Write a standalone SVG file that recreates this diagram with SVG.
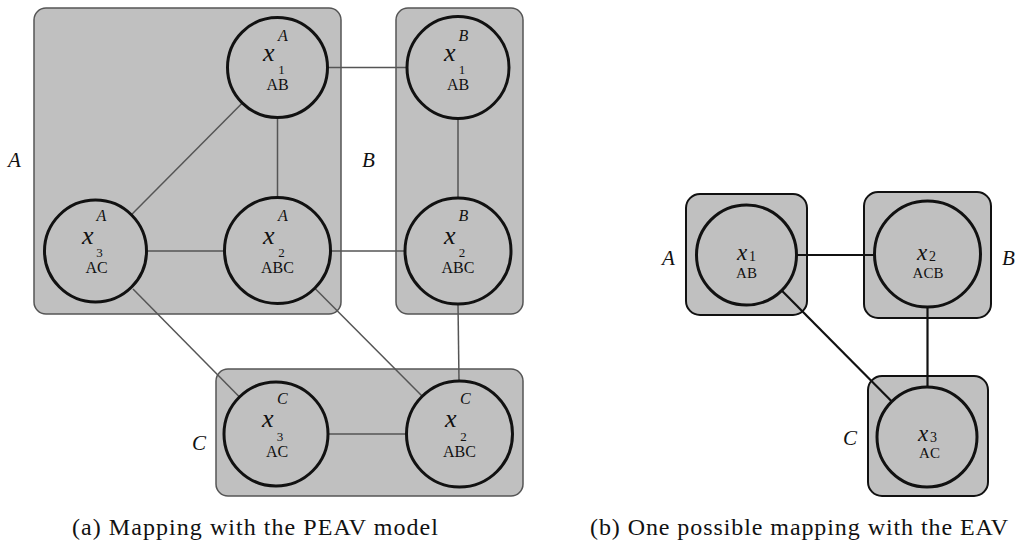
<svg xmlns="http://www.w3.org/2000/svg" width="1021" height="542" viewBox="0 0 1021 542" font-family="'Liberation Serif', 'Times New Roman', serif">
<style>
text{font-family:"Liberation Serif","Times New Roman",serif;fill:#111}
.box{fill:#c0c0c0;stroke:#555;stroke-width:1.5}
.boxb{fill:#c0c0c0;stroke:#111;stroke-width:2}
.node{fill:#c0c0c0;stroke:#111;stroke-width:3}
.lc{stroke:#555;stroke-width:1.5;fill:none}
.rc{stroke:#111;stroke-width:2.2;fill:none}
.side{font-size:21px;font-style:italic}
.sup{font-size:16px;font-style:italic}
.var{font-size:26px;font-style:italic}
.sub{font-size:13px;text-anchor:middle}
.dom{font-size:16px;text-anchor:middle}
.var2{font-size:23px;font-style:italic}
.sub2{font-size:14px}
.dom2{font-size:15px;text-anchor:middle}
.cap{font-size:24px}
</style>
<rect width="1021" height="542" fill="#fff"/>
<g id="boxes">
<rect id="boxA" class="box" x="34" y="8" width="307" height="306" rx="12"/>
<rect id="boxB" class="box" x="396" y="8" width="127" height="306" rx="12"/>
<rect id="boxC" class="box" x="216" y="369" width="307" height="127" rx="12"/>
<rect id="rboxA" class="boxb" x="686" y="194" width="121" height="121" rx="14"/>
<rect id="rboxB" class="boxb" x="864" y="192" width="127" height="126" rx="14"/>
<rect id="rboxC" class="boxb" x="868" y="376" width="120" height="120" rx="14"/>
</g>
<g id="connectors">
<line class="lc" x1="327.5" y1="67.5" x2="407" y2="67.5"/>
<line class="lc" x1="277.5" y1="117.5" x2="277.5" y2="197.5"/>
<line class="lc" x1="242.3" y1="103" x2="131.4" y2="214.8"/>
<line class="lc" x1="146.5" y1="251" x2="224.5" y2="251"/>
<line class="lc" x1="330.5" y1="251" x2="405" y2="251"/>
<line class="lc" x1="458" y1="118.5" x2="458" y2="198"/>
<line class="lc" x1="133" y1="289" x2="239.5" y2="397"/>
<line class="lc" x1="314.8" y1="288.2" x2="422" y2="396"/>
<line class="lc" x1="458" y1="304" x2="459" y2="381"/>
<line class="lc" x1="328" y1="434" x2="406.5" y2="434"/>
<line class="rc" x1="796.5" y1="255" x2="874.5" y2="255"/>
<line class="rc" x1="781.7" y1="290.5" x2="891.8" y2="401.5"/>
<line class="rc" x1="927.5" y1="307" x2="927.5" y2="387"/>
</g>
<g id="x1A">
<circle class="node" cx="277.5" cy="67.5" r="50"/>
<text class="sup" x="278" y="41">A</text>
<text class="var" x="263" y="61">x</text>
<text class="sub" x="281.5" y="74">1</text>
<text class="dom" x="277.5" y="90">AB</text>
</g>
<g id="x3A">
<circle class="node" cx="95.5" cy="251" r="51"/>
<text class="sup" x="96.5" y="221">A</text>
<text class="var" x="82" y="244">x</text>
<text class="sub" x="99.5" y="257">3</text>
<text class="dom" x="96.5" y="273">AC</text>
</g>
<g id="x2A">
<circle class="node" cx="277.5" cy="250.5" r="53"/>
<text class="sup" x="278" y="221">A</text>
<text class="var" x="263" y="244">x</text>
<text class="sub" x="281.5" y="257">2</text>
<text class="dom" x="277.5" y="273">ABC</text>
</g>
<g id="x1B">
<circle class="node" cx="458" cy="67.5" r="51"/>
<text class="sup" x="458.5" y="41">B</text>
<text class="var" x="444" y="61">x</text>
<text class="sub" x="462" y="74">1</text>
<text class="dom" x="458" y="90">AB</text>
</g>
<g id="x2B">
<circle class="node" cx="458" cy="251" r="53"/>
<text class="sup" x="458.5" y="221">B</text>
<text class="var" x="444" y="244">x</text>
<text class="sub" x="462" y="257">2</text>
<text class="dom" x="458" y="273">ABC</text>
</g>
<g id="x3C">
<circle class="node" cx="276" cy="434" r="52"/>
<text class="sup" x="277" y="404">C</text>
<text class="var" x="262" y="427">x</text>
<text class="sub" x="280" y="441">3</text>
<text class="dom" x="277" y="457">AC</text>
</g>
<g id="x2C">
<circle class="node" cx="459.5" cy="434" r="53"/>
<text class="sup" x="460" y="404">C</text>
<text class="var" x="445" y="427">x</text>
<text class="sub" x="463.5" y="441">2</text>
<text class="dom" x="459.5" y="457">ABC</text>
</g>
<g id="x1">
<circle class="node" cx="746.5" cy="255" r="50"/>
<text class="var2" x="737" y="260">x</text>
<text class="sub2" x="749" y="261">1</text>
<text class="dom2" x="746.5" y="278">AB</text>
</g>
<g id="x2">
<circle class="node" cx="927.5" cy="254" r="53"/>
<text class="var2" x="917" y="260">x</text>
<text class="sub2" x="929" y="261">2</text>
<text class="dom2" x="928" y="278">ACB</text>
</g>
<g id="x3">
<circle class="node" cx="927" cy="437" r="50"/>
<text class="var2" x="918" y="441">x</text>
<text class="sub2" x="930" y="442">3</text>
<text class="dom2" x="929.5" y="458">AC</text>
</g>
<g id="labels">
<text class="side" x="8" y="167">A</text>
<text class="side" x="362" y="167">B</text>
<text class="side" x="192" y="450">C</text>
<text class="side" x="662" y="265">A</text>
<text class="side" x="1002" y="265">B</text>
<text class="side" x="843" y="445">C</text>
<text class="cap" x="72" y="535" textLength="366" lengthAdjust="spacing">(a) Mapping with the PEAV model</text>
<text class="cap" x="590" y="535" textLength="418" lengthAdjust="spacing">(b) One possible mapping with the EAV</text>
</g>
</svg>
